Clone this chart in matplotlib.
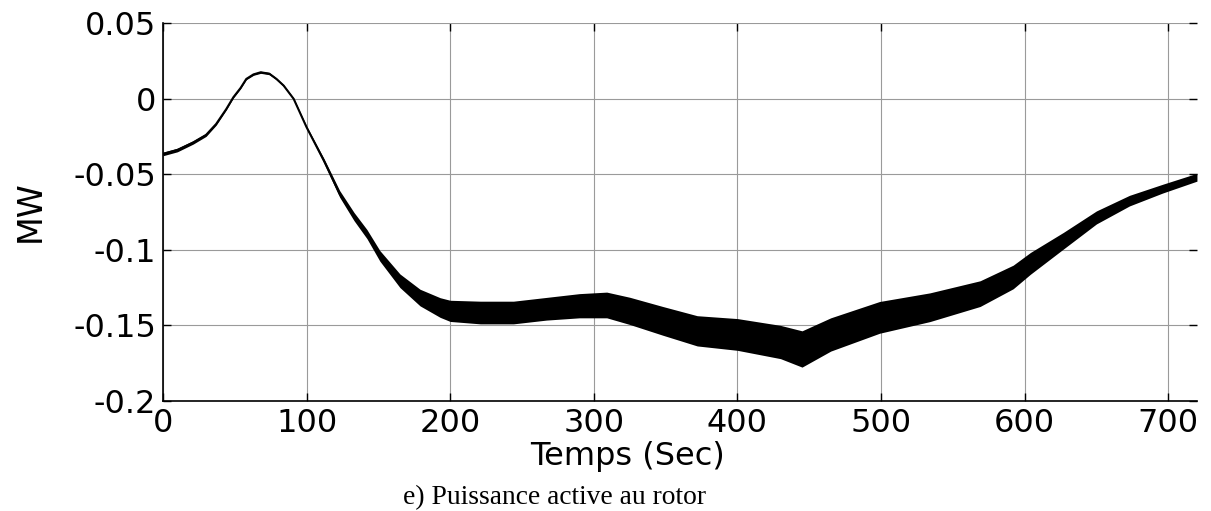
import matplotlib.pyplot as plt
import numpy as np

# time (s) and rotor active power (MW)
temps = [0, 10, 21, 30, 37, 44, 49, 54, 58, 63, 68, 74, 79, 84, 91, 100,
         112, 123, 133, 142, 151, 165, 179, 193, 200, 221, 244, 267, 290,
         309, 325, 348, 372, 400, 430, 445, 465, 499, 534, 569, 592, 604,
         627, 650, 673, 696, 720]
puissance = [-0.0366, -0.034, -0.029, -0.024, -0.0168, -0.007, 0.0009,
             0.007, 0.013, 0.016, 0.0174, 0.0165, 0.013, 0.0086, -0.0002,
             -0.019, -0.041, -0.063, -0.078, -0.0896, -0.104, -0.1205,
             -0.1316, -0.1382, -0.1404, -0.1415, -0.1415, -0.139, -0.137,
             -0.1365, -0.1404, -0.147, -0.1536, -0.156, -0.161, -0.1656,
             -0.156, -0.1447, -0.138, -0.129, -0.118, -0.109, -0.094,
             -0.0786, -0.0675, -0.0596, -0.052]
# half width of the ripple band
ondulation = [0.0012, 0.0012, 0.0011, 0.001, 0.0008, 0.0006, 0.0005,
              0.0005, 0.0005, 0.0006, 0.0007, 0.0007, 0.0006, 0.0006,
              0.0006, 0.0008, 0.0015, 0.0022, 0.0027, 0.003, 0.0035, 0.0045,
              0.0055, 0.0065, 0.007, 0.0075, 0.0075, 0.0075, 0.008, 0.0085,
              0.009, 0.0095, 0.010, 0.0105, 0.011, 0.012, 0.011, 0.0105,
              0.0095, 0.0085, 0.0078, 0.0072, 0.0055, 0.0043, 0.0035,
              0.0029, 0.0026]

xticks = [0, 100, 200, 300, 400, 500, 600, 700]
yticks = [-0.2, -0.15, -0.1, -0.05, 0, 0.05]
ylabels = ['-0.2', '-0.15', '-0.1', '-0.05', '0', '0.05']

t = np.array(temps)
p = np.array(puissance)
w = np.array(ondulation)

fig = plt.figure(figsize=(12.11, 5.11), dpi=100)
ax = fig.add_axes([0.1346, 0.2153, 0.8538, 0.7397])

ax.fill_between(t, p - w, p + w, color='black', lw=0)
ax.plot(t, p, color='black', lw=1.5)

ax.set_xlim(0, 720)
ax.set_ylim(-0.2, 0.05)
ax.set_xticks(xticks)
ax.set_yticks(yticks)
ax.set_yticklabels(ylabels)
ax.grid(True, color='#9a9a9a', lw=0.8)
ax.set_axisbelow(True)

for s in ['top', 'right']:
    ax.spines[s].set_visible(False)
for s in ['left', 'bottom']:
    ax.spines[s].set_linewidth(1.2)

ax.tick_params(direction='in', length=6, width=1, top=True, right=True,
               labelsize=23, pad=5)
for lab in ax.get_xticklabels() + ax.get_yticklabels():
    lab.set_family('DejaVu Sans')

ax.set_xlabel('Temps (Sec)', fontsize=23, family='DejaVu Sans')
ax.xaxis.set_label_coords(0.449, -0.105)
ax.set_ylabel('MW', fontsize=24, family='DejaVu Sans')
ax.yaxis.set_label_coords(-0.112, 0.503)

fig.text(0.458, 0.027, 'e) Puissance active au rotor', ha='center',
         va='center', fontsize=19.8, family='Liberation Serif')

fig.savefig('out.png', dpi=100)
